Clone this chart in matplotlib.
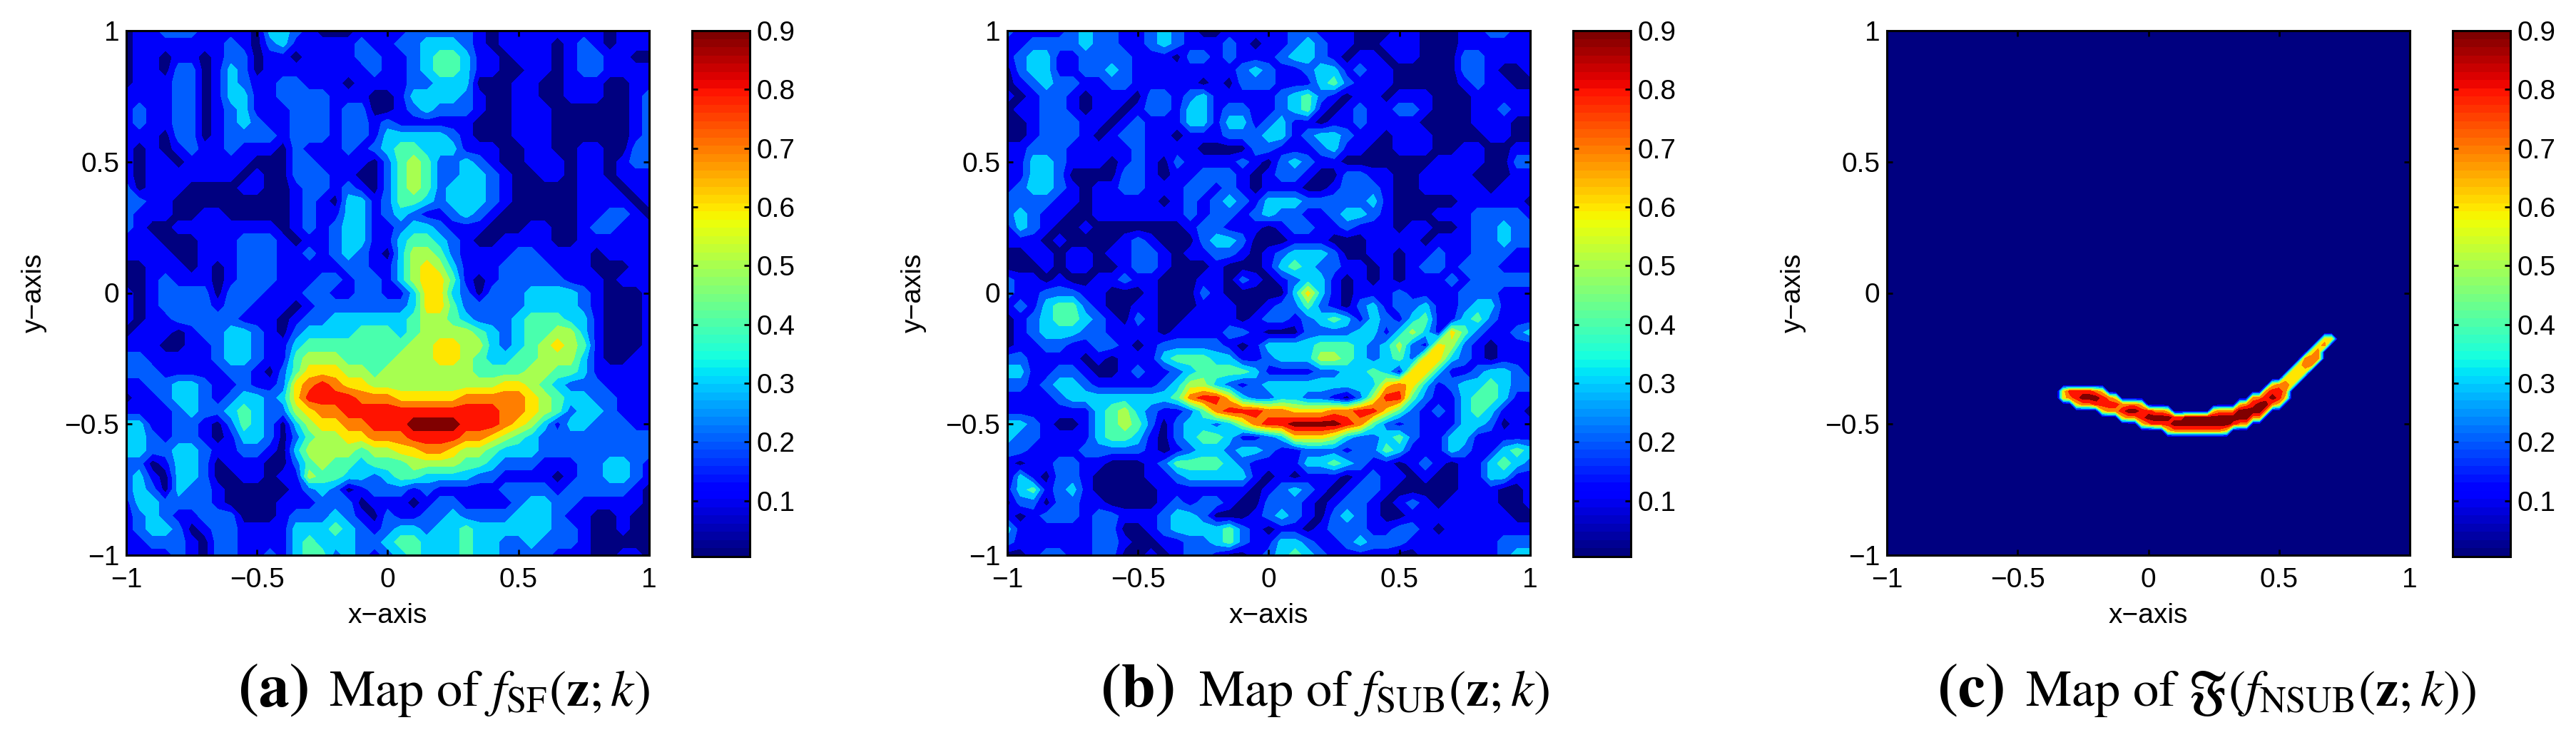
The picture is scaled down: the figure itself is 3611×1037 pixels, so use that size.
import numpy as np
import matplotlib
matplotlib.use('Agg')
import matplotlib.pyplot as plt
from matplotlib.cm import ScalarMappable
from matplotlib.colors import Normalize

W, H = 3612, 1037

# tenths, rows from y=1 down to y=-1, columns x=-1 to 1 (step 0.05)
sf_tenths = [
    [0,1,1,2,2,2,1,1,1,1,0,3,3,2,1,0,0,0,1,1,1,1,2,2,2,2,2,1,0,1,1,1,1,1,1,1,1,0,1,1,1],
    [0,1,1,1,1,1,1,1,2,1,0,2,3,1,1,1,1,1,2,1,1,2,2,3,3,3,2,1,0,1,1,1,1,0,1,2,1,0,1,1,1],
    [0,1,1,0,1,1,0,1,2,2,0,1,1,0,1,1,1,1,2,2,1,1,2,3,4,4,3,1,1,0,1,1,1,0,1,2,2,1,1,0,0],
    [0,1,1,0,2,2,0,1,3,2,0,1,1,1,1,1,1,1,1,2,1,1,2,3,4,4,3,1,1,0,0,1,1,0,1,2,2,1,1,1,1],
    [0,1,1,1,2,2,0,1,3,2,1,1,2,2,1,1,1,0,1,1,1,1,2,2,3,3,3,0,0,0,1,1,0,0,1,1,1,0,0,1,1],
    [1,1,1,1,2,2,0,1,3,3,1,1,2,2,2,2,1,1,1,0,0,1,3,3,3,3,2,1,0,0,1,1,0,0,1,1,1,0,0,1,2],
    [1,2,1,1,2,2,0,1,2,3,1,1,1,2,2,2,1,2,2,0,0,1,2,3,2,2,2,1,0,0,1,1,1,0,0,0,0,0,0,1,2],
    [1,2,1,1,2,2,0,1,2,3,2,1,1,2,2,2,1,2,2,1,2,1,1,1,1,1,1,0,0,0,1,1,1,0,0,0,0,0,0,1,2],
    [1,1,1,0,2,2,0,1,2,2,2,2,1,2,2,2,1,2,2,1,3,3,3,3,3,2,1,0,0,0,1,1,1,0,0,0,0,0,0,1,2],
    [1,0,1,0,1,2,1,1,2,1,1,1,0,2,1,1,1,2,1,2,3,4,4,3,3,3,1,1,1,0,0,1,1,0,0,1,1,0,0,2,2],
    [1,0,1,1,0,1,1,1,1,1,0,0,0,2,2,1,1,1,1,0,2,4,5,4,2,2,3,2,1,0,0,1,1,1,0,1,1,0,1,2,2],
    [1,0,1,1,1,1,1,1,1,0,1,0,0,2,2,2,1,1,0,0,2,4,5,4,2,2,3,3,2,1,0,0,1,1,0,1,1,0,1,1,1],
    [2,0,1,1,1,0,0,0,0,1,1,0,0,1,2,2,1,2,1,0,2,4,5,4,2,3,3,3,2,1,0,0,0,0,0,1,1,1,0,1,1],
    [2,2,1,1,0,0,0,0,0,0,0,0,0,1,2,1,0,3,3,1,2,4,4,3,2,3,3,3,2,1,0,0,0,0,0,1,1,1,1,0,1],
    [2,1,1,1,0,0,1,1,0,0,0,0,0,1,2,1,1,3,3,1,2,3,2,1,1,2,3,2,1,0,0,0,0,0,0,1,1,2,2,1,0],
    [2,1,0,0,1,1,1,1,1,1,1,1,0,1,2,1,2,3,3,1,1,2,3,3,2,1,1,1,0,0,0,1,1,0,0,1,2,2,1,1,1],
    [1,1,1,0,0,0,1,1,1,2,2,2,1,0,1,1,2,3,3,1,1,3,4,4,3,2,1,0,0,1,1,1,1,0,0,1,1,1,1,1,1],
    [1,1,1,1,0,0,1,1,1,2,2,2,1,1,2,1,2,3,2,1,0,3,5,5,4,2,1,1,1,1,2,2,1,1,1,1,0,1,1,1,1],
    [0,0,1,1,1,0,1,0,1,2,2,2,1,1,1,1,1,2,2,1,1,3,5,6,5,3,1,1,1,2,2,2,2,1,1,1,0,0,0,1,1],
    [0,0,1,2,1,1,1,0,1,2,2,2,1,1,1,2,2,1,2,2,1,3,5,6,6,4,1,0,1,2,2,2,2,2,1,1,1,0,1,1,1],
    [1,0,1,2,2,2,2,0,2,2,2,1,1,1,2,2,1,1,2,2,1,1,3,6,6,3,2,0,2,2,2,3,3,3,3,2,1,0,0,0,1],
    [1,0,1,2,2,2,2,1,2,2,1,1,1,0,1,2,2,2,2,2,2,2,3,6,6,4,2,2,2,2,2,3,3,3,3,2,1,0,0,0,1],
    [1,0,1,1,2,2,2,2,2,1,1,1,0,1,2,2,3,3,3,3,3,3,4,5,5,4,3,2,2,2,3,4,4,4,3,3,1,0,0,0,1],
    [0,1,1,1,0,1,2,2,3,3,2,1,0,2,3,3,3,3,4,4,4,3,4,5,5,5,5,4,3,2,3,4,4,5,5,3,1,0,0,0,1],
    [1,1,1,0,0,1,1,2,3,3,2,1,1,3,4,4,4,4,4,4,4,4,5,5,6,6,5,5,3,2,3,4,5,6,5,4,1,0,0,0,1],
    [2,2,1,1,1,1,1,2,3,3,2,1,1,4,5,5,5,4,4,4,4,5,5,5,6,6,5,4,3,3,4,4,5,5,5,3,1,0,0,1,1],
    [2,2,2,1,1,1,1,1,2,2,1,0,2,4,6,6,6,5,5,4,5,5,5,5,5,5,5,4,4,4,4,5,5,4,4,3,1,1,1,1,1],
    [1,1,2,2,3,3,2,1,1,2,1,1,2,6,7,8,7,6,6,5,5,5,5,5,5,5,5,5,5,6,6,5,4,3,2,2,2,1,1,1,1],
    [0,1,1,2,3,3,2,1,2,3,3,2,3,6,8,8,8,8,7,7,7,6,6,6,6,6,7,7,7,7,7,6,5,4,3,3,2,2,1,1,1],
    [1,1,1,1,2,3,2,2,3,4,3,2,2,5,6,7,7,8,8,8,8,8,8,8,8,8,8,8,8,7,7,6,5,4,2,3,3,2,1,1,1],
    [3,3,1,1,2,2,1,0,2,4,3,2,0,3,5,6,6,7,7,8,8,8,9,9,9,9,8,8,8,7,6,5,3,1,3,3,2,2,2,1,1],
    [3,3,2,1,2,2,1,0,1,3,3,2,0,2,4,5,5,6,6,7,7,7,8,8,8,8,7,7,6,5,4,3,2,2,2,2,2,2,2,2,2],
    [3,3,2,2,3,3,2,1,1,2,2,1,0,3,5,5,5,5,4,5,5,6,6,7,7,6,5,5,4,3,3,3,2,2,2,2,2,2,2,2,2],
    [2,2,0,1,3,3,2,0,1,1,1,0,0,2,4,5,4,4,3,4,4,4,5,5,5,5,4,4,3,2,2,2,1,1,1,2,2,3,3,2,1],
    [2,3,1,0,3,3,2,0,0,1,1,0,1,1,5,4,4,3,3,2,3,4,4,3,3,3,3,2,2,1,1,1,1,0,1,2,2,3,3,2,1],
    [2,3,2,0,3,2,2,1,0,0,0,0,0,1,2,3,2,0,1,2,2,2,1,2,1,1,1,1,1,2,2,2,2,1,2,2,2,2,2,1,0],
    [1,3,3,2,2,2,2,1,0,0,0,0,1,1,1,2,2,2,0,1,1,1,0,1,2,2,1,1,1,1,2,3,3,2,2,1,1,1,1,1,0],
    [1,2,3,2,1,1,2,2,2,0,0,0,1,2,2,2,3,2,1,0,2,1,1,2,2,3,2,2,2,2,3,3,3,2,1,1,0,0,1,0,0],
    [1,2,3,3,2,0,1,2,2,1,1,1,1,3,3,3,4,3,2,1,2,3,3,2,3,3,4,3,3,3,3,3,3,2,2,1,0,0,1,0,0],
    [1,1,2,2,2,1,0,2,2,1,1,1,1,3,4,3,3,3,2,2,3,4,4,3,3,3,4,3,3,2,2,3,2,2,2,1,0,0,0,0,0],
    [1,1,1,1,2,1,0,2,2,1,1,2,1,3,4,4,2,3,2,1,2,3,4,3,3,3,4,3,3,2,2,2,2,1,1,1,0,0,1,1,0],
]

# same layout for panel (b)
sub_tenths = [
    [2,1,1,1,1,2,3,2,2,1,1,2,3,2,1,0,0,1,1,1,1,1,2,2,1,1,1,0,0,0,1,1,0,0,0,1,1,2,2,1,1],
    [1,1,2,2,2,2,3,2,2,1,1,2,3,2,1,1,1,2,1,0,1,1,2,3,2,1,1,0,0,1,1,1,0,0,0,1,1,1,1,1,1],
    [1,2,3,3,1,1,2,2,2,2,1,1,1,0,2,2,1,2,1,1,1,2,3,3,2,1,0,1,1,0,1,1,0,0,0,2,2,1,1,1,1],
    [0,2,3,3,1,1,2,2,3,2,1,1,1,1,1,1,1,1,2,3,2,1,1,2,3,3,1,2,1,1,0,0,0,0,0,2,2,1,0,0,1],
    [0,1,2,3,2,2,1,1,2,2,1,1,1,1,1,0,1,0,2,2,2,1,1,1,3,4,2,1,1,1,0,0,0,0,0,1,2,1,1,0,0],
    [1,0,1,2,2,1,0,1,1,1,0,2,2,1,2,3,1,1,1,1,1,2,3,4,2,1,0,1,1,0,1,1,1,0,0,0,1,1,1,1,1],
    [0,1,1,2,2,1,0,1,1,0,1,2,2,1,3,3,1,2,2,1,1,2,3,4,1,0,1,2,1,1,2,2,1,0,0,0,1,1,2,1,1],
    [0,0,1,2,2,2,1,1,0,1,2,1,1,1,3,3,1,3,3,1,2,3,1,1,0,1,1,2,1,1,1,1,0,0,0,0,1,1,1,0,0],
    [0,0,1,2,2,2,1,0,1,2,2,1,1,0,1,1,1,2,2,2,3,3,1,2,3,3,2,1,1,0,1,1,1,0,0,0,0,1,1,0,0],
    [1,1,2,2,2,1,1,1,1,1,2,1,1,1,1,0,0,0,0,2,2,1,1,1,2,3,1,1,0,0,1,1,1,0,0,1,1,0,0,1,1],
    [1,1,3,3,2,1,1,1,0,1,2,1,0,2,1,1,1,1,2,1,0,2,3,2,1,1,0,0,0,0,0,0,0,1,1,1,1,0,0,2,2],
    [1,1,3,3,2,0,0,0,0,2,2,1,0,1,1,2,2,2,1,0,1,2,2,1,0,0,2,2,1,1,0,0,1,1,1,1,0,0,0,1,1],
    [1,2,3,3,2,1,0,1,1,2,2,1,1,1,2,2,1,2,1,0,1,1,1,0,0,1,2,2,2,1,0,0,1,1,1,1,1,0,1,1,1],
    [2,2,2,2,1,1,0,1,1,1,1,1,0,1,2,1,2,3,2,1,3,3,3,2,2,2,2,2,3,1,0,0,0,0,0,1,1,1,1,1,0],
    [2,3,2,1,1,0,0,1,1,1,1,1,1,1,2,1,2,2,1,2,3,2,2,1,1,2,3,3,2,1,0,0,0,1,1,1,2,2,2,2,1],
    [1,3,2,1,0,0,1,0,0,0,0,0,0,0,1,2,2,1,1,1,0,1,2,2,1,1,2,1,1,1,0,1,1,0,0,1,2,2,3,2,2],
    [1,1,1,0,1,0,0,0,0,1,2,1,0,0,0,2,3,3,2,0,0,0,1,1,1,0,0,0,1,1,1,1,0,1,1,1,2,2,3,2,2],
    [0,0,1,1,0,1,1,0,1,1,2,2,1,0,1,1,2,2,1,0,1,2,3,3,3,2,0,0,1,1,0,1,1,2,1,1,2,2,2,1,1],
    [0,0,0,1,0,1,1,0,0,1,2,2,1,0,0,0,1,0,0,0,1,3,4,3,2,2,1,1,0,1,0,1,2,2,1,2,2,2,1,1,1],
    [2,1,1,0,1,0,0,1,1,2,1,1,0,0,0,1,1,0,2,1,0,1,2,3,3,1,0,1,0,1,0,1,1,1,2,1,2,2,2,2,2],
    [2,1,1,2,2,2,1,1,0,0,0,1,0,0,0,2,1,0,0,0,0,0,3,6,3,1,0,1,1,1,2,1,1,1,1,2,2,2,1,1,1],
    [1,2,1,3,4,4,2,1,0,0,1,1,0,0,0,1,1,1,0,0,1,2,2,4,2,1,0,2,3,1,2,2,3,1,1,2,3,3,1,1,1],
    [0,1,2,3,4,4,3,2,1,0,2,1,0,0,1,1,1,1,0,1,2,2,1,2,3,4,3,1,3,2,1,3,4,1,1,3,4,2,1,1,1],
    [0,1,2,3,3,3,2,2,1,1,1,1,0,1,1,1,1,2,2,1,0,0,0,2,2,2,2,3,3,1,3,5,3,1,6,4,2,1,1,2,3],
    [0,1,1,2,2,1,1,2,2,1,0,1,2,2,2,2,2,1,0,1,3,3,3,3,4,4,4,3,2,3,5,2,1,6,5,2,1,0,1,1,1],
    [2,2,1,1,1,1,0,1,0,1,1,1,3,4,4,4,3,3,1,1,2,3,3,3,5,5,4,3,2,3,4,2,6,6,3,2,1,0,1,1,1],
    [3,3,1,1,2,2,1,0,0,1,2,1,1,2,3,4,4,4,4,3,1,1,1,1,2,2,3,3,4,3,1,6,6,3,1,1,2,3,3,2,1],
    [2,2,1,2,3,3,2,1,1,1,1,1,2,3,5,5,3,2,1,2,3,3,3,3,3,3,3,3,3,6,7,6,3,1,2,3,3,4,3,2,2],
    [1,1,1,1,2,3,3,3,3,3,3,3,3,4,7,8,8,6,3,2,2,3,3,2,2,1,0,2,5,8,8,4,2,1,1,3,4,4,3,1,1],
    [1,1,1,1,1,1,1,3,4,5,3,2,1,1,2,4,7,8,8,8,7,7,6,6,6,7,7,8,8,6,4,2,1,2,1,3,4,3,1,1,0],
    [3,3,2,1,0,0,1,3,4,5,4,2,0,2,3,3,2,3,5,7,8,8,9,9,9,9,8,7,4,2,1,2,1,1,1,3,3,2,0,1,1],
    [3,2,2,1,1,1,1,3,4,4,3,1,0,2,3,4,4,3,1,1,2,3,6,6,6,5,3,2,2,3,4,2,1,1,3,3,1,1,1,1,1],
    [2,2,1,1,1,1,2,2,2,2,2,1,0,1,2,3,3,2,3,3,2,1,1,2,2,2,1,2,2,4,3,1,1,1,3,2,1,1,3,4,3],
    [1,0,1,1,2,2,1,1,0,0,0,1,2,4,4,4,4,3,2,1,1,1,1,3,3,4,3,2,1,1,0,1,2,1,0,1,1,3,4,3,2],
    [0,3,1,0,2,2,1,0,0,0,0,1,1,2,3,3,3,3,3,1,0,1,0,1,1,1,0,1,2,1,1,0,1,0,0,1,1,3,3,1,1],
    [1,3,4,1,2,3,1,0,0,0,0,0,1,1,1,1,1,1,1,0,1,2,3,2,1,0,1,2,2,1,0,0,0,0,0,1,1,1,0,0,1],
    [0,2,2,0,2,2,1,1,0,0,0,0,1,2,1,2,2,1,0,0,2,2,2,1,0,1,2,2,1,0,1,2,1,0,1,1,1,1,0,0,1],
    [1,0,1,2,2,2,1,2,2,1,1,1,2,3,3,2,0,0,0,1,2,3,2,1,0,2,3,2,1,0,0,1,1,1,1,1,1,1,1,0,0],
    [3,1,1,1,1,1,1,2,2,0,0,1,2,3,3,3,3,4,2,1,0,1,1,0,1,2,2,2,1,1,2,2,1,0,1,1,1,1,1,1,1],
    [2,1,1,1,1,1,1,2,2,1,0,0,1,1,2,2,3,4,2,1,1,3,3,2,1,1,2,3,2,2,2,1,1,1,1,1,1,1,2,2,2],
    [0,0,1,2,2,1,1,2,2,0,0,1,0,1,2,2,1,0,0,1,2,3,4,3,2,1,1,1,1,1,0,0,1,1,1,1,1,1,2,3,3],
]

# panel (c) is zero except the thin arc: for x=-0.325 upward (step 0.025),
# the first row below y=-0.15 (step 0.025) and the tenths going down from it
nsub_first_row = [9,9,9,9,9,9,9,10,10,11,11,11,11,12,12,12,12,13,13,13,13,13,13,12,12,12,12,
                  11,11,10,10,9,8,8,7,6,5,4,3,2,1,1]
nsub_tenths = [
    [6,6],[8,7],[8,8,6],[8,9,7],[8,9,7],[7,9,8],[6,8,8,6],[7,8,7],[6,8,7],[7,8,6],[7,9,7],
    [7,9,7],[6,8,8,6],[8,9,7],[7,9,8],[7,9,8],[6,9,8,6],[8,9,7],[8,9,7],[9,9,7],[9,9,7],
    [9,9,7],[9,9,7],[6,9,9,7],[7,9,9,7],[7,9,9,6],[7,9,8],[6,9,9,7],[7,9,9,7],[7,8,9,7],
    [7,9,9,7],[7,8,9,7],[6,8,9,7],[7,8,8,6],[6,7,7,6],[6,6,6],[6,6,6],[7,7,6],[6,7,7],
    [6,7,7],[6,7],[6],
]

titles = [r'Map of $f_{\mathrm{SF}}(\mathbf{z};k)$',
          r'Map of $f_{\mathrm{SUB}}(\mathbf{z};k)$',
          r'Map of $\mathfrak{F}(f_{\mathrm{NSUB}}(\mathbf{z};k))$']
letters = ['(a)', '(b)', '(c)']
ticks = [-1, -0.5, 0, 0.5, 1]
tick_labels = ['\u22121', '\u22120.5', '0', '0.5', '1']
cbar_ticks = [0.1, 0.2, 0.3, 0.4, 0.5, 0.6, 0.7, 0.8, 0.9]
levels = [0, 0.1, 0.2, 0.3, 0.4, 0.5, 0.6, 0.7, 0.8, 0.9, 1.0]

plt.rcParams['font.family'] = ['Liberation Sans', 'DejaVu Sans']
plt.rcParams['mathtext.fontset'] = 'stix'

# pixel boxes: axes left, colorbar left, ylabel x, letter x, title x
ax_left = [177, 1412, 2645]
cb_left = [970, 2205, 3438]
ylabel_x = [48, 1281, 2514]
letter_x = [334, 1543, 2716]
title_x = [461, 1680, 2839]
ax_w = 733
ax_h = 735
ax_top = 43
cb_w = 81

def add_px_axes(fig, l, t, w, h):
    return fig.add_axes([l / W, 1 - (t + h) / H, w / W, h / H])

def panel_sub_grid():
    z = np.zeros((81, 81))
    for col, (first, vals) in enumerate(zip(nsub_first_row, nsub_tenths)):
        for m, v in enumerate(vals):
            z[34 - first - m, 27 + col] = (v + 0.5) / 10
    return z

fig = plt.figure(figsize=(W / 100, H / 100), dpi=100)
cmap = matplotlib.colormaps['jet'].resampled(64)
norm = Normalize(vmin=0.005, vmax=0.9)
fill_colors = [matplotlib.colormaps['jet'](norm(l)) for l in levels[:-1]]

grid_a = (np.array(sf_tenths)[::-1] + 0.5) / 10
grid_b = (np.array(sub_tenths)[::-1] + 0.5) / 10
grid_c = panel_sub_grid()

for i, z in enumerate([grid_a, grid_b, grid_c]):
    ax = add_px_axes(fig, ax_left[i], ax_top, ax_w, ax_h)
    x = np.linspace(-1, 1, z.shape[1])
    y = np.linspace(-1, 1, z.shape[0])
    ax.contourf(x, y, z, levels=levels, colors=fill_colors)
    ax.set_xlim(-1, 1)
    ax.set_ylim(-1, 1)
    ax.set_xticks(ticks)
    ax.set_xticklabels(tick_labels)
    ax.set_yticks(ticks)
    ax.set_yticklabels(tick_labels)
    ax.tick_params(direction='in', top=True, right=True, length=6, width=2, labelsize=28)
    ax.tick_params(axis='x', pad=12)
    ax.tick_params(axis='y', pad=7)
    for s in ax.spines.values():
        s.set_linewidth(2.2)

    fig.text((ax_left[i] + ax_w / 2) / W, 1 - 863 / H, 'x\u2212axis', ha='center', va='center', fontsize=28)
    fig.text(ylabel_x[i] / W, 1 - (ax_top + ax_h / 2) / H, 'y\u2212axis', ha='center', va='center',
             rotation=90, fontsize=28)

    cax = add_px_axes(fig, cb_left[i], ax_top, cb_w, ax_h + 2)
    cb = fig.colorbar(ScalarMappable(norm=norm, cmap=cmap), cax=cax)
    cb.set_ticks(cbar_ticks)
    cb.set_ticklabels(['%.1f' % t for t in cbar_ticks])
    cax.tick_params(direction='in', left=True, right=True, length=6, width=2, labelsize=28, pad=7)
    cb.outline.set_linewidth(2.2)

    fig.text(letter_x[i] / W, 1 - 989 / H, letters[i], family='STIXGeneral', weight='bold', fontsize=62, va='baseline')
    fig.text(title_x[i] / W, 1 - 989 / H, titles[i], family='STIXGeneral', fontsize=52, va='baseline')

fig.savefig('out.png', dpi=100)
